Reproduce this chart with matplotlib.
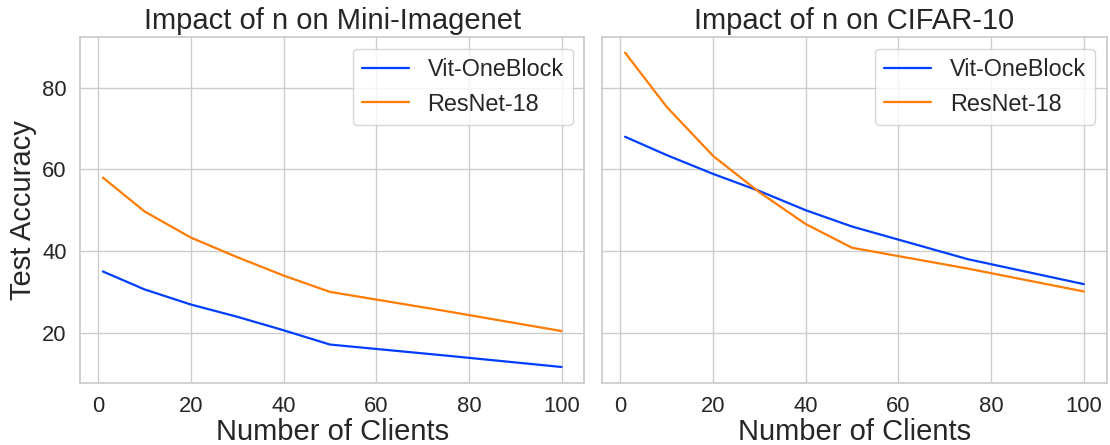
import matplotlib
matplotlib.use("Agg")
import matplotlib.pyplot as plt
import seaborn as sns

# number of clients
clients = [1, 10, 20, 30, 40, 50, 75, 100]

# Mini-Imagenet
mini_vit = [35.0, 30.6, 26.9, 23.9, 20.6, 17.1, 14.4, 11.6]
mini_resnet = [58.0, 49.7, 43.3, 38.5, 34.0, 30.0, 25.3, 20.4]

# CIFAR-10
cifar_vit = [68.0, 63.5, 58.9, 54.7, 50.0, 46.0, 38.0, 31.9]
cifar_resnet = [88.6, 75.3, 63.3, 54.4, 46.6, 40.8, 35.7, 30.1]

labels = ["Vit-OneBlock", "ResNet-18"]
titles = ["Impact of n on Mini-Imagenet", "Impact of n on CIFAR-10"]

sns.set_theme(style="whitegrid", palette="bright")
plt.rcParams['font.family'] = ['Liberation Sans', 'DejaVu Sans']

fig, axes = plt.subplots(1, 2, figsize=(11.1, 4.45), dpi=100, sharey=True)

data = [(mini_vit, mini_resnet), (cifar_vit, cifar_resnet)]
for ax, (vit, res), title in zip(axes, data, titles):
    ax.plot(clients, vit, label=labels[0], linewidth=1.6)
    ax.plot(clients, res, label=labels[1], linewidth=1.6)
    ax.set_title(title, fontsize=21)
    ax.set_xlabel("Number of Clients", fontsize=21, labelpad=1)
    ax.tick_params(labelsize=15.8)
    ax.legend(loc="upper right", fontsize=16.8)

axes[0].set_ylabel("Test Accuracy", fontsize=21)
axes[0].set_yticks([20, 40, 60, 80])

fig.subplots_adjust(left=0.072, right=0.997, bottom=0.14, top=0.917, wspace=0.035)
fig.savefig("out.png", dpi=100)
